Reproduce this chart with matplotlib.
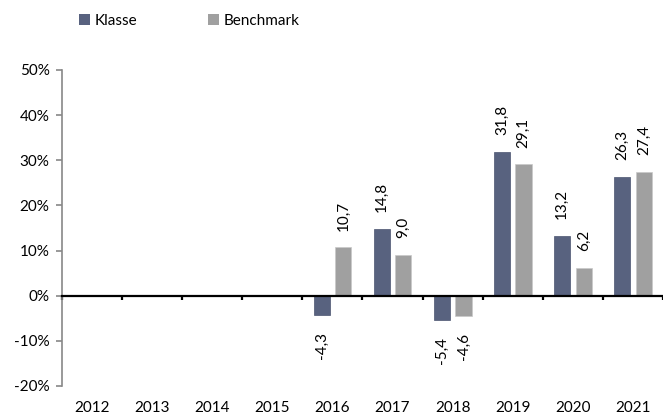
import numpy as np
import matplotlib.pyplot as plt
from matplotlib.patches import Patch

plt.rcParams['font.family'] = ['Lato', 'DejaVu Sans']

years = ['2012', '2013', '2014', '2015', '2016', '2017', '2018', '2019', '2020', '2021']
klasse = [np.nan, np.nan, np.nan, np.nan, -4.3, 14.8, -5.4, 31.8, 13.2, 26.3]
benchmark = [np.nan, np.nan, np.nan, np.nan, 10.7, 9.0, -4.6, 29.1, 6.2, 27.4]

c_kl = '#58627f'
c_bm = '#a0a0a0'

fig = plt.figure(figsize=(6.63, 4.19), dpi=100)
ax = fig.add_axes([0.0935, 0.079, 0.9065, 0.754])

x = np.arange(len(years))
w = 0.27
off = 0.18
ax.bar(x - off, klasse, w, color=c_kl, edgecolor='#4a5470', linewidth=0.5)
ax.bar(x + off, benchmark, w, color=c_bm, edgecolor='#c8c8c8', linewidth=0.5)

# value labels, rotated like the original
for xs, vals in ((x - off, klasse), (x + off, benchmark)):
    for xi, v in zip(xs, vals):
        if np.isnan(v):
            continue
        lab = ('%.1f' % v).replace('.', ',')
        if v >= 0:
            ax.annotate(lab, (xi, v), xytext=(0, 12), textcoords='offset points',
                        rotation=90, ha='center', va='bottom', fontsize=11)
        else:
            ax.annotate(lab, (xi, v), xytext=(0, -12), textcoords='offset points',
                        rotation=90, ha='center', va='top', fontsize=11)

ax.set_xlim(-0.5, 9.5)
ax.set_ylim(-20, 50)
ax.set_yticks(np.arange(-20, 51, 10))
ax.set_yticklabels(['%d%%' % t for t in np.arange(-20, 51, 10)], fontsize=11)

ax.spines['top'].set_visible(False)
ax.spines['right'].set_visible(False)
ax.spines['left'].set_color('#888888')
ax.spines['left'].set_linewidth(1.2)
ax.tick_params(axis='y', color='#888888', length=4, width=1.2, pad=5)

# zero line with category separators
ax.spines['bottom'].set_position(('data', 0))
ax.spines['bottom'].set_color('black')
ax.spines['bottom'].set_linewidth(1.6)
ax.set_xticks(x)
ax.set_xticklabels(years, fontsize=11)
ax.set_xticks(np.arange(-0.5, 10, 1), minor=True)
ax.tick_params(axis='x', which='major', length=0, pad=76)
ax.tick_params(axis='x', which='minor', length=3, width=1.6, color='black')

handles = [Patch(facecolor=c_kl), Patch(facecolor=c_bm)]
fig.legend(handles, ['Klasse', 'Benchmark'], loc='upper left',
           bbox_to_anchor=(0.098, 1.0), ncol=2, frameon=False,
           handlelength=0.75, handleheight=0.75, handletextpad=0.3,
           columnspacing=4.6, fontsize=11)

fig.savefig('out.png', dpi=100)
